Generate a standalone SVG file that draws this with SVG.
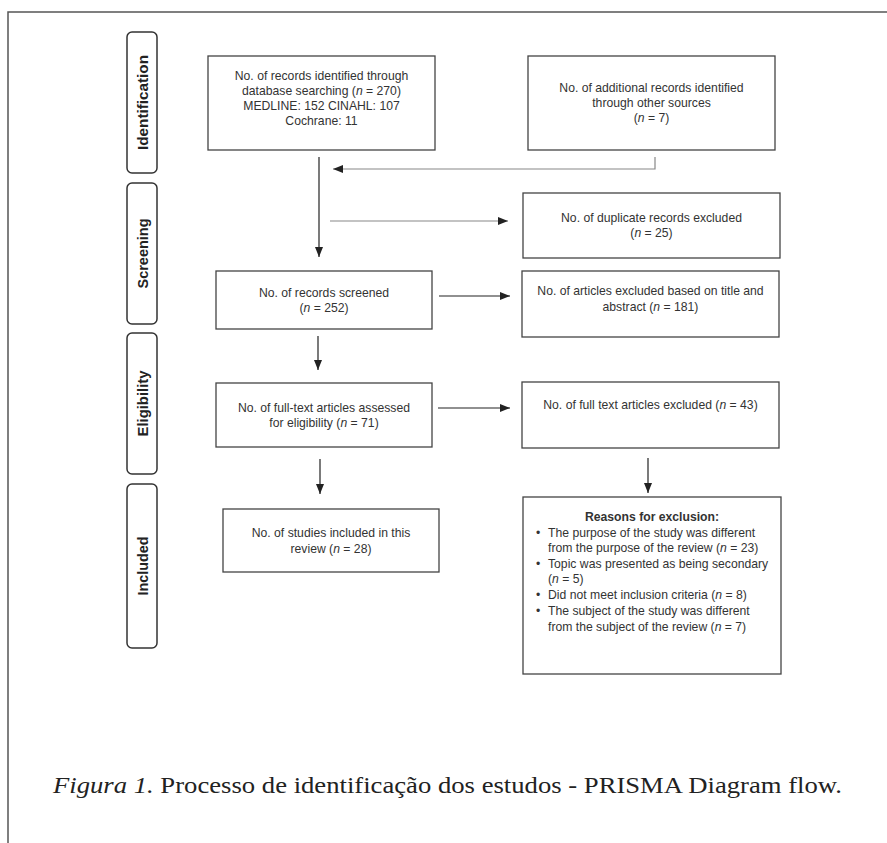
<svg xmlns="http://www.w3.org/2000/svg" width="887" height="843" viewBox="0 0 887 843">
<style>
.frame{fill:none;stroke:#555;stroke-width:1.5}
.stage rect{fill:#fff;stroke:#333;stroke-width:1.5}
.stage text{font-family:"Liberation Sans",Arial,sans-serif;font-weight:bold;font-size:15px;fill:#222;text-anchor:middle}
.box rect{fill:#fff;stroke:#444;stroke-width:1.3}
.box text{font-family:"Liberation Sans",Arial,sans-serif;font-size:12.2px;fill:#333;text-anchor:middle}
.box text.l{text-anchor:start}
.box text.b{font-weight:bold}
.con path{fill:none;stroke:#222;stroke-width:1.2}
.con path.g{stroke:#888}
.cap{font-family:"Liberation Serif","Times New Roman",serif;font-size:23px;fill:#222}
</style>
<defs>
<marker id="ah" markerUnits="userSpaceOnUse" markerWidth="11" markerHeight="9" refX="10" refY="4" orient="auto">
<path d="M0,0 L10,4 L0,8 z" fill="#222"/>
</marker>
</defs>
<rect width="887" height="843" fill="#fff"/>
<path class="frame" d="M8,843 V12 H887"/>

<g id="stage-identification" class="stage">
<rect x="127" y="32" width="30" height="141" rx="5"/>
<text transform="translate(147.5,102.5) rotate(-90)" textLength="95" lengthAdjust="spacingAndGlyphs">Identification</text>
</g>
<g id="stage-screening" class="stage">
<rect x="127" y="183" width="30" height="141" rx="5"/>
<text transform="translate(147.5,253.5) rotate(-90)" textLength="70" lengthAdjust="spacingAndGlyphs">Screening</text>
</g>
<g id="stage-eligibility" class="stage">
<rect x="127" y="333" width="30" height="141" rx="5"/>
<text transform="translate(147.5,403.5) rotate(-90)" textLength="66" lengthAdjust="spacingAndGlyphs">Eligibility</text>
</g>
<g id="stage-included" class="stage">
<rect x="127" y="484" width="30" height="164" rx="5"/>
<text transform="translate(147.5,566) rotate(-90)" textLength="59" lengthAdjust="spacingAndGlyphs">Included</text>
</g>

<g id="db-records" class="box">
<rect x="208" y="56" width="227" height="94"/>
<text x="321.5" y="80">No. of records identified through</text>
<text x="321.5" y="95">database searching (<tspan font-style="italic">n</tspan> = 270)</text>
<text x="321.5" y="110">MEDLINE: 152 CINAHL: 107</text>
<text x="321.5" y="125">Cochrane: 11</text>
</g>
<g id="other-records" class="box">
<rect x="528" y="56" width="247" height="94"/>
<text x="651.5" y="92">No. of additional records identified</text>
<text x="651.5" y="107">through other sources</text>
<text x="651.5" y="122">(<tspan font-style="italic">n</tspan> = 7)</text>
</g>
<g id="duplicates" class="box">
<rect x="523" y="193" width="257" height="65"/>
<text x="651.5" y="222">No. of duplicate records excluded</text>
<text x="651.5" y="237">(<tspan font-style="italic">n</tspan> = 25)</text>
</g>
<g id="screened" class="box">
<rect x="216" y="271" width="216" height="58"/>
<text x="324" y="297">No. of records screened</text>
<text x="324" y="312">(<tspan font-style="italic">n</tspan> = 252)</text>
</g>
<g id="title-excluded" class="box">
<rect x="522" y="271" width="257" height="66"/>
<text x="650.5" y="295">No. of articles excluded based on title and</text>
<text x="650.5" y="311">abstract (<tspan font-style="italic">n</tspan> = 181)</text>
</g>
<g id="fulltext-assessed" class="box">
<rect x="216" y="383" width="216" height="64"/>
<text x="324" y="412">No. of full-text articles assessed</text>
<text x="324" y="427">for eligibility (<tspan font-style="italic">n</tspan> = 71)</text>
</g>
<g id="fulltext-excluded" class="box">
<rect x="522" y="382" width="257" height="66"/>
<text x="650.5" y="409">No. of full text articles excluded (<tspan font-style="italic">n</tspan> = 43)</text>
</g>
<g id="included" class="box">
<rect x="223" y="509" width="216" height="63"/>
<text x="331" y="537">No. of studies included in this</text>
<text x="331" y="553">review (<tspan font-style="italic">n</tspan> = 28)</text>
</g>
<g id="reasons" class="box">
<rect x="523" y="497" width="258" height="177"/>
<text class="b" x="652" y="521">Reasons for exclusion:</text>
<text class="l" x="536" y="537">•</text>
<text class="l" x="548" y="537">The purpose of the study was different</text>
<text class="l" x="548" y="552">from the purpose of the review (<tspan font-style="italic">n</tspan> = 23)</text>
<text class="l" x="536" y="568">•</text>
<text class="l" x="548" y="568">Topic was presented as being secondary</text>
<text class="l" x="548" y="583">(<tspan font-style="italic">n</tspan> = 5)</text>
<text class="l" x="536" y="599">•</text>
<text class="l" x="548" y="599">Did not meet inclusion criteria (<tspan font-style="italic">n</tspan> = 8)</text>
<text class="l" x="536" y="615">•</text>
<text class="l" x="548" y="615">The subject of the study was different</text>
<text class="l" x="548" y="631">from the subject of the review (<tspan font-style="italic">n</tspan> = 7)</text>
</g>

<g id="connectors" class="con">
<path class="g" d="M655,157 V169 H333" marker-end="url(#ah)"/>
<path d="M319,157 V257" marker-end="url(#ah)"/>
<path class="g" d="M330,221 H508" marker-end="url(#ah)"/>
<path d="M439,296 H510" marker-end="url(#ah)"/>
<path d="M318,336 V370" marker-end="url(#ah)"/>
<path d="M438,408 H510" marker-end="url(#ah)"/>
<path d="M320,459 V494" marker-end="url(#ah)"/>
<path d="M648,458 V493" marker-end="url(#ah)"/>
</g>

<text class="cap" x="53" y="793" textLength="789" lengthAdjust="spacingAndGlyphs"><tspan font-style="italic">Figura 1.</tspan> Processo de identificação dos estudos - PRISMA Diagram flow.</text>
</svg>
